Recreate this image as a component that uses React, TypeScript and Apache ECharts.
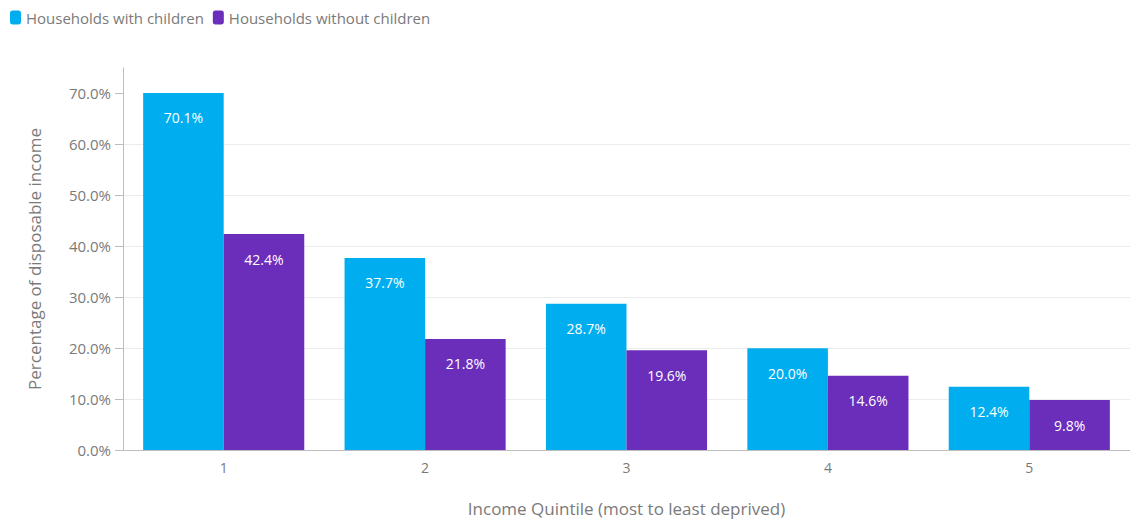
import React, { useEffect, useRef } from "react";
import * as echarts from "echarts";

const categories = ["1", "2", "3", "4", "5"];
const withChildren = [70.1, 37.7, 28.7, 20.0, 12.4];
const withoutChildren = [42.4, 21.8, 19.6, 14.6, 9.8];
const yTicks = [0, 10, 20, 30, 40, 50, 60, 70];
const seriesNames = ["Households with children", "Households without children"];

const FONT = "'Open Sans', 'Noto Sans', sans-serif";
const GREY = "#7a7a7a";

export default function App() {
  const ref = useRef<HTMLDivElement>(null);
  useEffect(() => {
    if (!ref.current) return;
    const chart = echarts.init(ref.current, undefined, { renderer: "svg" });
    const label = {
      show: true,
      position: "insideTop",
      distance: 18,
      color: "#ffffff",
      fontSize: 14,
      fontFamily: FONT,
      formatter: (p: any) => `${Number(p.value).toFixed(1)}%`,
    };
    chart.setOption({
      animation: false,
      textStyle: { fontFamily: FONT },
      legend: {
        left: 5,
        top: 5,
        itemWidth: 11,
        itemHeight: 14,
        itemGap: 9,
        icon: "roundRect",
        textStyle: { color: GREY, fontSize: 15, fontFamily: FONT },
        data: seriesNames,
      },
      grid: { left: 123, right: 0, top: 68, bottom: 71, containLabel: false, outerBoundsMode: "none" },
      xAxis: {
        type: "category",
        data: categories,
        name: "Income Quintile (most to least deprived)",
        nameLocation: "middle",
        nameGap: 50,
        nameTextStyle: { color: GREY, fontSize: 17, fontFamily: FONT },
        axisLine: { lineStyle: { color: "#bdbdbd" } },
        axisTick: { alignWithLabel: true, length: 5, lineStyle: { color: "#9a9a9a" } },
        axisLabel: { color: GREY, fontSize: 14, margin: 10, fontFamily: FONT },
      },
      yAxis: {
        type: "value",
        min: 0,
        max: 75,
        interval: 10,
        name: "Percentage of disposable income",
        nameLocation: "middle",
        nameGap: 80,
        nameTextStyle: { color: GREY, fontSize: 17, fontFamily: FONT },
        axisLine: { show: true, lineStyle: { color: "#bdbdbd" } },
        axisTick: { show: true, length: 8, lineStyle: { color: "#bdbdbd" }, customValues: yTicks },
        axisLabel: {
          color: GREY,
          fontSize: 15,
          margin: 12,
          fontFamily: FONT,
          customValues: yTicks,
          formatter: (v: number) => `${v.toFixed(1)}%`,
        },
        splitLine: { show: true, showMaxLine: false, lineStyle: { color: "#ececec" } },
      },
      series: [
        {
          name: seriesNames[0],
          type: "bar",
          data: withChildren,
          barGap: "0%",
          barCategoryGap: "20%",
          itemStyle: { color: "#00AEEF" },
          label,
        },
        {
          name: seriesNames[1],
          type: "bar",
          data: withoutChildren,
          itemStyle: { color: "#6A2EBB" },
          label,
        },
      ],
    });
    return () => chart.dispose();
  }, []);
  return (
    <div
      ref={ref}
      style={{ position: "fixed", left: 0, top: 0, width: 1130, height: 521, background: "#fff" }}
    />
  );
}
